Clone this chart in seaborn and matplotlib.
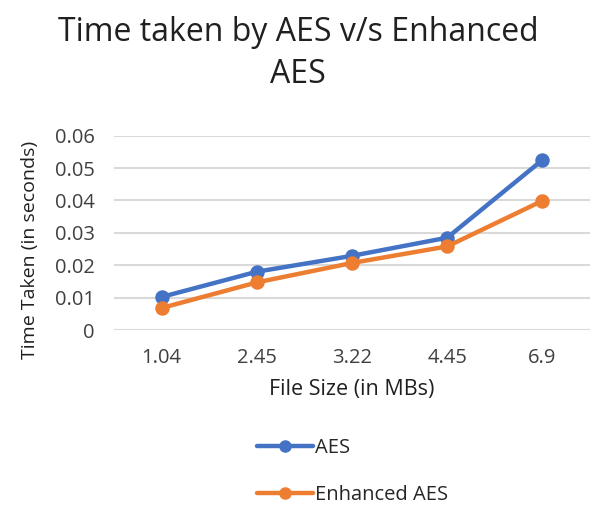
import pandas as pd
import seaborn as sns
import matplotlib.pyplot as plt

file_sizes = ["1.04", "2.45", "3.22", "4.45", "6.9"]
aes_times = [0.0102, 0.018, 0.0229, 0.0285, 0.0525]
enhanced_times = [0.0068, 0.0147, 0.0207, 0.0258, 0.0399]
series_names = ["AES", "Enhanced AES"]
colors = ["#4472C4", "#ED7D31"]

df = pd.DataFrame({
    "size": file_sizes * 2,
    "time": aes_times + enhanced_times,
    "algo": [series_names[0]] * len(file_sizes) + [series_names[1]] * len(file_sizes),
})

sns.set_theme(style="white")
plt.rcParams["font.family"] = ["Open Sans", "DejaVu Sans"]

fig = plt.figure(figsize=(5.9, 5.07), dpi=100)
ax = fig.add_axes([114 / 590, 1 - 330 / 507, 476 / 590, (330 - 135.7) / 507])

sns.pointplot(
    data=df, x="size", y="time", hue="algo", order=file_sizes,
    palette=colors, markers="o", linewidth=3.2, markersize=8,
    ax=ax, legend=False,
)

ax.set_ylim(0, 0.06)
ax.set_yticks([0, 0.01, 0.02, 0.03, 0.04, 0.05, 0.06])
ax.set_yticklabels(["0", "0.01", "0.02", "0.03", "0.04", "0.05", "0.06"])
ax.set_xlim(-0.5, 4.5)
ax.grid(axis="y", color="#d9d9d9", linewidth=1.5)
ax.set_axisbelow(True)
for s in ax.spines.values():
    s.set_visible(False)
ax.tick_params(axis="y", labelsize=14.5, colors="#404040", length=0, pad=14)
ax.tick_params(axis="x", labelsize=14.5, colors="#404040", length=0, pad=13)
ax.set_xlabel("File Size (in MBs)", fontsize=15.5, color="#202020", labelpad=8)
ax.set_ylabel("Time Taken (in seconds)", fontsize=14, color="#202020")
ax.yaxis.set_label_coords(-0.158, 0.41)

fig.text(0.505, 0.968, "Time taken by AES v/s Enhanced\nAES", ha="center", va="top",
         fontsize=23, color="#202020", linespacing=1.35)

handles = [
    plt.Line2D([], [], color=colors[0], lw=3.2, marker="o", markersize=8),
    plt.Line2D([], [], color=colors[1], lw=3.2, marker="o", markersize=8),
]
fig.legend(handles, series_names, loc="upper left", bbox_to_anchor=(249 / 590, 1 - 430 / 507),
           frameon=False, fontsize=14.5, handlelength=2.8, handletextpad=0.1,
           labelspacing=1.35, borderaxespad=0)

fig.savefig("out.png", dpi=100)
